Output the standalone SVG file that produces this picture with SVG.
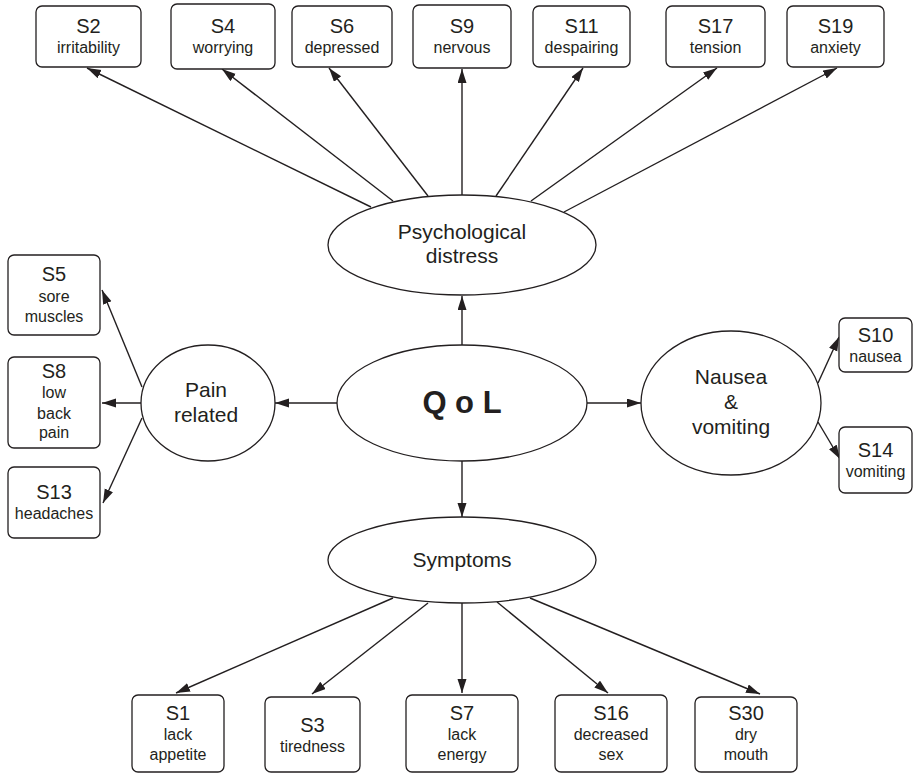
<svg xmlns="http://www.w3.org/2000/svg" width="918" height="774" viewBox="0 0 918 774">
<defs>
<marker id="ah" markerUnits="userSpaceOnUse" markerWidth="15" markerHeight="10" refX="14" refY="4.5" orient="auto">
<path d="M0,0 L14,4.5 L0,9 z" fill="#231f20"/>
</marker>
<style>
.box{fill:#fff;stroke:#231f20;stroke-width:1.3}
.ell{fill:#fff;stroke:#231f20;stroke-width:1.3}
.ln{stroke:#231f20;stroke-width:1.4;fill:none;marker-end:url(#ah)}
text{font-family:"Liberation Sans",Arial,sans-serif;fill:#231f20;text-anchor:middle}
.t{font-size:20px}
.s{font-size:16px}
.e{font-size:21px}
.q{font-size:31px;font-weight:bold}
</style>
</defs>
<rect width="918" height="774" fill="#fff"/>
<g id="connectors">
<line class="ln" x1="462" y1="345" x2="462" y2="296"/>
<line class="ln" x1="337" y1="403" x2="275" y2="403"/>
<line class="ln" x1="587" y1="403" x2="641" y2="403"/>
<line class="ln" x1="462" y1="461" x2="462" y2="517"/>
<line class="ln" x1="371" y1="207" x2="87" y2="68"/>
<line class="ln" x1="393" y1="201" x2="222" y2="69"/>
<line class="ln" x1="428" y1="196" x2="329" y2="68"/>
<line class="ln" x1="462" y1="195" x2="462" y2="69"/>
<line class="ln" x1="496" y1="196" x2="583" y2="68"/>
<line class="ln" x1="531" y1="201" x2="717" y2="68"/>
<line class="ln" x1="564" y1="212" x2="837" y2="68"/>
<line class="ln" x1="142" y1="387" x2="102" y2="290"/>
<line class="ln" x1="141" y1="403" x2="102" y2="403"/>
<line class="ln" x1="142" y1="418" x2="103" y2="503"/>
<line class="ln" x1="818" y1="383" x2="839" y2="337"/>
<line class="ln" x1="818" y1="422" x2="840" y2="459"/>
<line class="ln" x1="393" y1="598" x2="176" y2="693"/>
<line class="ln" x1="428" y1="603" x2="312" y2="694"/>
<line class="ln" x1="462" y1="603" x2="462" y2="693"/>
<line class="ln" x1="497" y1="602" x2="608" y2="693"/>
<line class="ln" x1="530" y1="598" x2="760" y2="694"/>
</g>
<g id="QoL"><ellipse class="ell" cx="462" cy="403" rx="125" ry="58"/><text class="q" x="462" y="413">Q o L</text></g>
<g id="Psych"><ellipse class="ell" cx="462" cy="245" rx="134" ry="50"/><text class="e" x="462" y="239">Psychological</text><text class="e" x="462" y="263">distress</text></g>
<g id="Pain"><ellipse class="ell" cx="208" cy="403" rx="67" ry="58"/><text class="e" x="206" y="397">Pain</text><text class="e" x="206" y="422">related</text></g>
<g id="Nausea"><ellipse class="ell" cx="731" cy="403" rx="90" ry="72"/><text class="e" x="731" y="384">Nausea</text><text class="e" x="731" y="409">&amp;</text><text class="e" x="731" y="434">vomiting</text></g>
<g id="Symptoms"><ellipse class="ell" cx="462" cy="560" rx="134" ry="43"/><text class="e" x="462" y="567">Symptoms</text></g>
<g id="S2"><rect class="box" x="36" y="6" width="105" height="61" rx="6"/><text class="t" x="88.5" y="33">S2</text><text class="s" x="88.5" y="53">irritability</text></g>
<g id="S4"><rect class="box" x="171" y="4" width="104" height="65" rx="6"/><text class="t" x="223" y="33">S4</text><text class="s" x="223" y="53">worrying</text></g>
<g id="S6"><rect class="box" x="292" y="6" width="100" height="61" rx="6"/><text class="t" x="342" y="33">S6</text><text class="s" x="342" y="53">depressed</text></g>
<g id="S9"><rect class="box" x="413" y="5" width="98" height="63" rx="6"/><text class="t" x="462" y="33">S9</text><text class="s" x="462" y="53">nervous</text></g>
<g id="S11"><rect class="box" x="533" y="6" width="97" height="61" rx="6"/><text class="t" x="581.5" y="33">S11</text><text class="s" x="581.5" y="53">despairing</text></g>
<g id="S17"><rect class="box" x="666" y="6" width="99" height="61" rx="6"/><text class="t" x="715.5" y="33">S17</text><text class="s" x="715.5" y="53">tension</text></g>
<g id="S19"><rect class="box" x="787" y="6" width="97" height="61" rx="6"/><text class="t" x="835.5" y="33">S19</text><text class="s" x="835.5" y="53">anxiety</text></g>
<g id="S5"><rect class="box" x="8" y="255" width="92" height="80" rx="6"/><text class="t" x="54" y="281">S5</text><text class="s" x="54" y="302">sore</text><text class="s" x="54" y="322">muscles</text></g>
<g id="S8"><rect class="box" x="8" y="357" width="92" height="91" rx="6"/><text class="t" x="54" y="378">S8</text><text class="s" x="54" y="398">low</text><text class="s" x="54" y="419">back</text><text class="s" x="54" y="438">pain</text></g>
<g id="S13"><rect class="box" x="8" y="467" width="92" height="71" rx="6"/><text class="t" x="54" y="499">S13</text><text class="s" x="54" y="519">headaches</text></g>
<g id="S10"><rect class="box" x="839" y="318" width="73" height="54" rx="6"/><text class="t" x="875.5" y="342">S10</text><text class="s" x="875.5" y="362">nausea</text></g>
<g id="S14"><rect class="box" x="839" y="427" width="73" height="66" rx="6"/><text class="t" x="875.5" y="457">S14</text><text class="s" x="875.5" y="477">vomiting</text></g>
<g id="S1"><rect class="box" x="132" y="695" width="92" height="77" rx="6"/><text class="t" x="178" y="720">S1</text><text class="s" x="178" y="740">lack</text><text class="s" x="178" y="760">appetite</text></g>
<g id="S3"><rect class="box" x="265" y="697" width="95" height="75" rx="6"/><text class="t" x="312.5" y="732">S3</text><text class="s" x="312.5" y="752">tiredness</text></g>
<g id="S7"><rect class="box" x="406" y="695" width="112" height="77" rx="6"/><text class="t" x="462" y="720">S7</text><text class="s" x="462" y="740">lack</text><text class="s" x="462" y="760">energy</text></g>
<g id="S16"><rect class="box" x="555" y="695" width="112" height="77" rx="6"/><text class="t" x="611" y="720">S16</text><text class="s" x="611" y="740">decreased</text><text class="s" x="611" y="760">sex</text></g>
<g id="S30"><rect class="box" x="695" y="697" width="102" height="75" rx="6"/><text class="t" x="746" y="720">S30</text><text class="s" x="746" y="740">dry</text><text class="s" x="746" y="760">mouth</text></g>
</svg>
